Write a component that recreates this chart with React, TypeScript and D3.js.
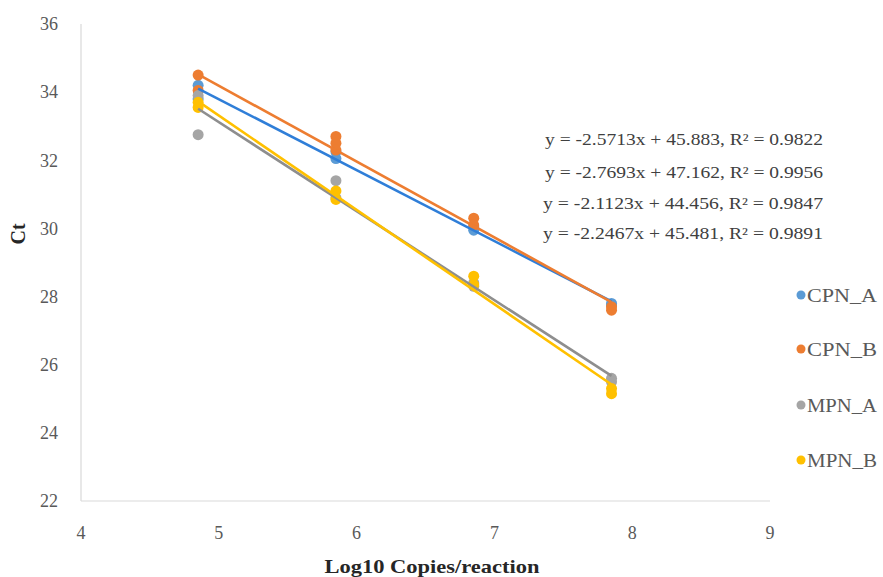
import React from "react";
import * as d3 from "d3";

const seriesNames = ["CPN_A", "CPN_B", "MPN_A", "MPN_B"];
const markerColors = ["#5B9BD5", "#ED7D31", "#A5A5A5", "#FFC000"];
const lineColors = ["#2F7ED8", "#ED7D31", "#8E8E8E", "#FFC000"];

const cpnA = [
  [4.85, 34.2], [4.85, 33.8],
  [5.85, 32.25], [5.85, 32.05],
  [6.85, 30.05], [6.85, 29.95],
  [7.85, 27.8], [7.85, 27.75],
];
const cpnB = [
  [4.85, 34.5], [4.85, 34.05],
  [5.85, 32.7], [5.85, 32.5], [5.85, 32.3],
  [6.85, 30.3], [6.85, 30.1],
  [7.85, 27.7], [7.85, 27.6],
];
const mpnA = [
  [4.85, 32.75], [4.85, 33.9],
  [5.85, 31.4], [5.85, 30.9],
  [6.85, 28.4], [6.85, 28.3],
  [7.85, 25.6], [7.85, 25.5],
];
const mpnB = [
  [4.85, 33.7], [4.85, 33.55],
  [5.85, 31.1], [5.85, 30.85],
  [6.85, 28.6], [6.85, 28.35],
  [7.85, 25.3], [7.85, 25.15],
];
const allSeries = [cpnA, cpnB, mpnA, mpnB];

const equations = [
  "y = -2.5713x + 45.883, R² = 0.9822",
  "y = -2.7693x + 47.162, R² = 0.9956",
  "y = -2.1123x + 44.456, R² = 0.9847",
  "y = -2.2467x + 45.481, R² = 0.9891",
];

const xTicks = [4, 5, 6, 7, 8, 9];
const yTicks = [22, 24, 26, 28, 30, 32, 34, 36];

function fit(pts: number[][]) {
  const mx = d3.mean(pts, (p) => p[0])!;
  const my = d3.mean(pts, (p) => p[1])!;
  const sxy = d3.sum(pts, (p) => (p[0] - mx) * (p[1] - my));
  const sxx = d3.sum(pts, (p) => (p[0] - mx) ** 2);
  const b = sxy / sxx;
  return { b, a: my - b * mx };
}

export default function App() {
  const W = 883, H = 577;
  const x = d3.scaleLinear().domain([4, 9]).range([81, 770]);
  const y = d3.scaleLinear().domain([22, 36]).range([501, 24]);
  const font = "'Liberation Serif', 'DejaVu Serif', serif";
  const textColor = "#595959";
  const eqX = [545, 545, 543, 543];
  const eqW = [278, 278, 280, 280];
  const eqY = [139, 172, 203, 233];
  const legY = [295, 349, 405, 460];

  return (
    <svg width={W} height={H} style={{ position: "absolute", left: 0, top: 0 }} fontFamily={font}>
      <rect width={W} height={H} fill="#fff" />
      <line x1={x(4)} x2={x(4)} y1={y(36)} y2={y(22)} stroke="#d9d9d9" strokeWidth={1.2} />
      <line x1={x(4)} x2={x(9)} y1={y(22)} y2={y(22)} stroke="#d9d9d9" strokeWidth={1.2} />
      {yTicks.map((t) => (
        <text key={t} x={58} y={y(t)} dy="0.35em" textAnchor="end" fontSize={18} fill={textColor}>{t}</text>
      ))}
      {xTicks.map((t) => (
        <text key={t} x={x(t)} y={533} dy="0.35em" textAnchor="middle" fontSize={18} fill={textColor}>{t}</text>
      ))}
      <text x={432} y={566} dy="0.35em" textAnchor="middle" fontSize={19} fontWeight="bold" fill="#262626" textLength={215} lengthAdjust="spacingAndGlyphs">Log10 Copies/reaction</text>
      <text transform={`translate(18,${234}) rotate(-90)`} dy="0.35em" textAnchor="middle" fontSize={20} fontWeight="bold" fill="#262626">Ct</text>
      {allSeries.map((pts, i) => (
        <g key={"m" + i}>
          {pts.map((p, j) => (
            <circle key={j} cx={x(p[0])} cy={y(p[1])} r={5.5} fill={markerColors[i]} />
          ))}
        </g>
      ))}
      {allSeries.map((pts, i) => {
        const { a, b } = fit(pts);
        const x0 = d3.min(pts, (p) => p[0])!;
        const x1 = d3.max(pts, (p) => p[0])!;
        return (
          <line key={"l" + i} x1={x(x0)} y1={y(a + b * x0)} x2={x(x1)} y2={y(a + b * x1)} stroke={lineColors[i]} strokeWidth={2.6} />
        );
      })}
      {equations.map((e, i) => (
        <text key={e} x={eqX[i]} y={eqY[i]} dy="0.35em" fontSize={16.5} fill="#404040" textLength={eqW[i]} lengthAdjust="spacingAndGlyphs">{e}</text>
      ))}
      {seriesNames.map((n, i) => (
        <g key={n}>
          <circle cx={801} cy={legY[i]} r={4.5} fill={markerColors[i]} />
          <text x={807} y={legY[i]} dy="0.35em" fontSize={19} fill={textColor} textLength={n.length === 5 ? 70 : 73} lengthAdjust="spacingAndGlyphs">{n}</text>
        </g>
      ))}
    </svg>
  );
}
